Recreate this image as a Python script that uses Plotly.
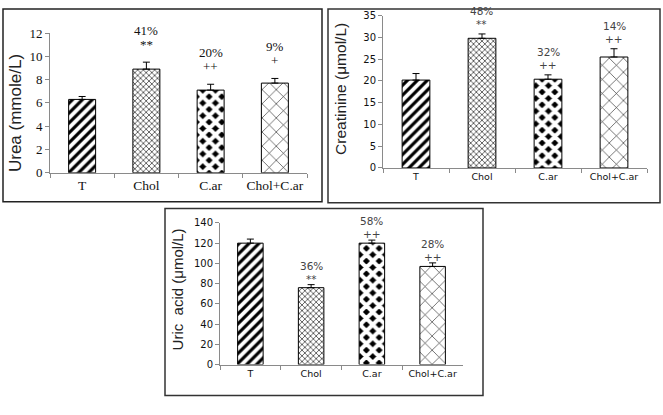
import plotly.graph_objects as go

W, H = 663, 415

categories = ["T", "Chol", "C.ar", "Chol+C.ar"]

urea_vals = [6.3, 8.9, 7.1, 7.7]
urea_err = [0.25, 0.6, 0.5, 0.4]
urea_pct = ["", "41%", "20%", "9%"]
urea_sig = ["", "**", "++", "+"]

creat_vals = [20.2, 29.8, 20.4, 25.5]
creat_err = [1.5, 1.0, 1.0, 1.9]
creat_pct = ["", "48%", "32%", "14%"]
creat_sig = ["", "**", "++", "++"]

uric_vals = [120, 76, 120, 97]
uric_err = [4, 3, 3, 3.5]
uric_pct = ["", "36%", "58%", "28%"]
uric_sig = ["", "**", "++", "++"]

patterns = [
    dict(shape="/", size=7, solidity=0.45, fgcolor="black", bgcolor="white", fgopacity=1),
    dict(shape="x", size=4, solidity=0.4, fgcolor="#555555", bgcolor="white", fgopacity=1),
    dict(shape="x", size=9, solidity=0.7, fgcolor="white", bgcolor="black", fgopacity=1),
    dict(shape="x", size=10, solidity=0.12, fgcolor="#222222", bgcolor="white", fgopacity=1),
]


def px_x(p):
    return p / W


def px_y(p):
    return 1 - p / H


fig = go.Figure()

serif = "Liberation Serif, Times New Roman, serif"
sans = "DejaVu Sans, Verdana, sans-serif"

panels = [
    dict(vals=urea_vals, err=urea_err, pct=urea_pct, sig=urea_sig,
         xd=[px_x(50), px_x(307)], yd=[px_y(172), px_y(27)], rng=[0, 12], dtick=2,
         font=dict(family=serif, size=13.5, color="#111"),
         tfont=dict(family=serif, size=13, color="#111"),
         afont=dict(family=serif, size=13, color="#111"),
         sig_off=18, pct_off=32),
    dict(vals=creat_vals, err=creat_err, pct=creat_pct, sig=creat_sig,
         xd=[px_x(383), px_x(647)], yd=[px_y(167), px_y(9)], rng=[0, 35], dtick=5,
         font=dict(family=sans, size=9.5, color="#111"),
         tfont=dict(family=sans, size=10, color="#111"),
         afont=dict(family=sans, size=10.5, color="#444"),
         sig_off=10, pct_off=23),
    dict(vals=uric_vals, err=uric_err, pct=uric_pct, sig=uric_sig,
         xd=[px_x(220), px_x(463)], yd=[px_y(371), px_y(224)], rng=[0, 140], dtick=20,
         font=dict(family=sans, size=9.5, color="#111"),
         tfont=dict(family=sans, size=10, color="#111"),
         afont=dict(family=sans, size=10.5, color="#444"),
         sig_off=6, pct_off=19),
]

annotations = []
layout_axes = {}
for i, p in enumerate(panels, start=1):
    xa = "x" if i == 1 else f"x{i}"
    ya = "y" if i == 1 else f"y{i}"
    for j, cat in enumerate(categories):
        fig.add_trace(go.Bar(
            x=[cat], y=[p["vals"][j]],
            xaxis=xa, yaxis=ya,
            width=0.42,
            marker=dict(color="white", line=dict(color="black", width=1),
                        pattern=patterns[j]),
            error_y=dict(type="data", array=[p["err"][j]], arrayminus=[0],
                         symmetric=False, color="black", thickness=1, width=3.5),
            showlegend=False,
        ))
        top = p["vals"][j] + p["err"][j]
        if p["sig"][j]:
            annotations.append(dict(x=cat, y=top, xref=xa, yref=ya, text=p["sig"][j],
                                    showarrow=False, yshift=p["sig_off"],
                                    font=p["afont"], yanchor="middle"))
        if p["pct"][j]:
            annotations.append(dict(x=cat, y=top, xref=xa, yref=ya, text=p["pct"][j],
                                    showarrow=False, yshift=p["pct_off"],
                                    font=p["afont"], yanchor="middle"))
    xkey = "xaxis" if i == 1 else f"xaxis{i}"
    ykey = "yaxis" if i == 1 else f"yaxis{i}"
    layout_axes[xkey] = dict(domain=p["xd"], anchor=ya, type="category",
                             categoryorder="array", categoryarray=categories,
                             range=[-0.5, 3.5], showline=True, linecolor="#8a8a8a",
                             linewidth=1, ticks="outside", tickson="boundaries",
                             ticklen=4, tickcolor="#8a8a8a", showgrid=False,
                             tickangle=0,
                             tickfont=p["font"], fixedrange=True)
    layout_axes[ykey] = dict(domain=p["yd"], anchor=xa, range=p["rng"], dtick=p["dtick"],
                             showline=True, linecolor="#8a8a8a", linewidth=1,
                             ticks="outside", ticklen=4, tickcolor="#8a8a8a",
                             showgrid=False, zeroline=False, tickfont=p["tfont"],
                             fixedrange=True)

# Y-axis titles
title_font = dict(family="Liberation Sans, Arial, sans-serif", color="#222")
annotations += [
    dict(x=px_x(15), y=px_y(110), xref="paper", yref="paper", text="Urea (mmole/L)",
         textangle=-90, showarrow=False, font=dict(title_font, size=17),
         xanchor="center", yanchor="middle"),
    dict(x=px_x(341), y=px_y(85), xref="paper", yref="paper", text="Creatinine (μmol/L)",
         textangle=-90, showarrow=False, font=dict(title_font, size=15.5),
         xanchor="center", yanchor="middle"),
    dict(x=px_x(177), y=px_y(293), xref="paper", yref="paper", text="Uric  acid (μmol/L)",
         textangle=-90, showarrow=False, font=dict(title_font, size=15),
         xanchor="center", yanchor="middle"),
]

shapes = [
    dict(type="rect", xref="paper", yref="paper", x0=px_x(3), x1=px_x(322),
         y0=px_y(202), y1=px_y(2), line=dict(color="#222", width=1.5)),
    dict(type="rect", xref="paper", yref="paper", x0=px_x(328), x1=px_x(660),
         y0=px_y(203), y1=px_y(2), line=dict(color="#333", width=1.5)),
    dict(type="rect", xref="paper", yref="paper", x0=px_x(165), x1=px_x(483),
         y0=px_y(403), y1=px_y(209), line=dict(color="#333", width=1.5)),
]

fig.update_layout(
    width=W, height=H,
    margin=dict(l=0, r=0, t=0, b=0),
    paper_bgcolor="white", plot_bgcolor="white",
    annotations=annotations, shapes=shapes,
    barmode="overlay",
    **layout_axes,
)

fig.write_html("out.html", config={"displayModeBar": False},
               post_script="document.body.style.margin='0px';document.body.style.overflow='hidden';")
